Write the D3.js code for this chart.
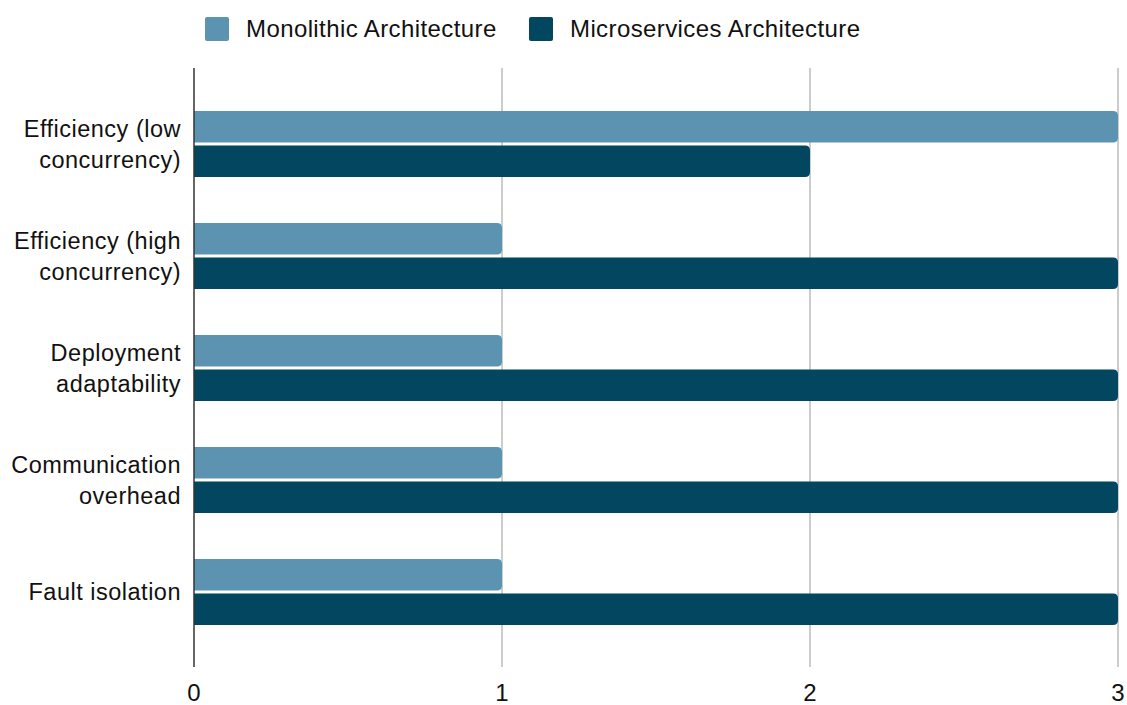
<!DOCTYPE html>
<html>
<head>
<meta charset="utf-8">
<script src="https://cdn.jsdelivr.net/npm/d3@7"></script>
<style>
  body { margin: 0; background: #fff; }
</style>
</head>
<body>
<svg width="1127" height="705"></svg>
<script>
// categories (each label split into lines)
var categories = [
  ['Efficiency (low', 'concurrency)'],
  ['Efficiency (high', 'concurrency)'],
  ['Deployment', 'adaptability'],
  ['Communication', 'overhead'],
  ['Fault isolation']
];
var seriesNames = ['Monolithic Architecture', 'Microservices Architecture'];
var monolithic = [3, 1, 1, 1, 1];
var microservices = [2, 3, 3, 3, 3];
var tickValues = [0, 1, 2, 3];
var colors = ['#5b93b1', '#03465f'];
var font = "'Liberation Sans', Arial, Helvetica, sans-serif";

var svg = d3.select('svg');

// scales
var x = d3.scaleLinear().domain([0, 3]).range([194, 1118]);
var y = d3.scaleBand().domain(d3.range(categories.length)).range([88, 648]);
var sub = d3.scaleBand().domain([0, 1]).range([-33, 33]).paddingInner(0.09);

// gridlines
svg.selectAll('line.grid')
  .data(tickValues.filter(function(d) { return d > 0; }))
  .enter().append('line')
    .attr('class', 'grid')
    .attr('x1', function(d) { return x(d); })
    .attr('x2', function(d) { return x(d); })
    .attr('y1', 68).attr('y2', 667)
    .attr('stroke', '#cccccc').attr('stroke-width', 2);

// rounded-right bar path
function barPath(x0, y0, w, h, r) {
  r = Math.min(r, w);
  return 'M' + x0 + ',' + y0 +
    'H' + (x0 + w - r) +
    'Q' + (x0 + w) + ',' + y0 + ' ' + (x0 + w) + ',' + (y0 + r) +
    'V' + (y0 + h - r) +
    'Q' + (x0 + w) + ',' + (y0 + h) + ' ' + (x0 + w - r) + ',' + (y0 + h) +
    'H' + x0 + 'Z';
}

var series = [monolithic, microservices];
series.forEach(function(vals, s) {
  svg.selectAll('path.bar' + s)
    .data(vals)
    .enter().append('path')
      .attr('class', 'bar' + s)
      .attr('fill', colors[s])
      .attr('d', function(d, i) {
        var cy = y(i) + y.bandwidth() / 2;
        return barPath(x(0), cy + sub(s), x(d) - x(0), sub.bandwidth(), 5);
      });
});

// zero axis line
svg.append('line')
  .attr('x1', x(0)).attr('x2', x(0))
  .attr('y1', 68).attr('y2', 667)
  .attr('stroke', '#333').attr('stroke-width', 1.5);

// x axis tick labels
svg.selectAll('text.tick')
  .data(tickValues)
  .enter().append('text')
    .attr('class', 'tick')
    .attr('x', function(d) { return x(d); })
    .attr('y', 701)
    .attr('text-anchor', 'middle')
    .attr('font-family', font)
    .attr('font-size', 24)
    .attr('fill', '#111')
    .text(function(d) { return d; });

// category labels
var lab = svg.selectAll('text.cat')
  .data(categories)
  .enter().append('text')
    .attr('class', 'cat')
    .attr('text-anchor', 'end')
    .attr('font-family', font)
    .attr('font-size', 23.5)
    .attr('letter-spacing', 0.5)
    .attr('fill', '#111');
lab.each(function(lines, i) {
  var cy = y(i) + y.bandwidth() / 2;
  var start = cy - (lines.length - 1) * 31 / 2 + 8;
  d3.select(this).selectAll('tspan')
    .data(lines)
    .enter().append('tspan')
      .attr('x', 181)
      .attr('y', function(d, k) { return start + k * 31; })
      .text(function(d) { return d; });
});

// legend
var legendX = [205, 529];
seriesNames.forEach(function(name, s) {
  svg.append('rect')
    .attr('x', legendX[s]).attr('y', 17)
    .attr('width', 24).attr('height', 24)
    .attr('rx', 2)
    .attr('fill', colors[s]);
  svg.append('text')
    .attr('x', legendX[s] + 41).attr('y', 37)
    .attr('font-family', font)
    .attr('font-size', 24)
    .attr('letter-spacing', 0.4)
    .attr('fill', '#111')
    .text(name);
});
</script>
</body>
</html>
